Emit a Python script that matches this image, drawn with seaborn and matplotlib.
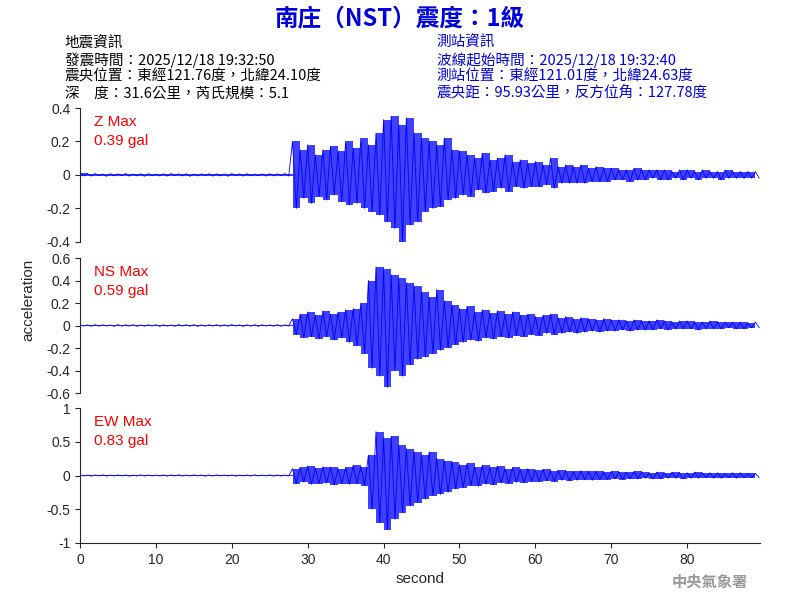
import numpy as np
import pandas as pd
import matplotlib
matplotlib.use("Agg")
import matplotlib.pyplot as plt
import seaborn as sns

# per-second peak (max / min) acceleration, 0..89 s
z_max = [0.01, 0.006, 0.008, 0.005, 0.007, 0.006, 0.008, 0.005, 0.006, 0.007, 0.005, 0.006, 0.008, 0.006,
         0.007, 0.005, 0.006, 0.007, 0.006, 0.005, 0.008, 0.006, 0.007, 0.005, 0.006, 0.007, 0.006, 0.008,
         0.20, 0.15, 0.18, 0.12, 0.15, 0.17, 0.14, 0.20, 0.16, 0.22, 0.18, 0.25,
         0.33, 0.35, 0.30, 0.34, 0.25, 0.22, 0.20, 0.18, 0.22, 0.15,
         0.14, 0.12, 0.10, 0.13, 0.09, 0.10, 0.12, 0.08, 0.09, 0.07,
         0.08, 0.06, 0.10, 0.05, 0.06, 0.05, 0.06, 0.04, 0.05, 0.04,
         0.04, 0.03, 0.03, 0.04, 0.03, 0.03, 0.03, 0.03, 0.02, 0.03,
         0.03, 0.02, 0.03, 0.02, 0.02, 0.03, 0.02, 0.02, 0.02, 0.02]
z_min = [-0.006, -0.007, -0.005, -0.008, -0.006, -0.005, -0.007, -0.006, -0.008, -0.005, -0.006, -0.007, -0.005, -0.006,
         -0.008, -0.006, -0.005, -0.007, -0.006, -0.008, -0.005, -0.007, -0.006, -0.005, -0.007, -0.006, -0.005, -0.007,
         -0.20, -0.14, -0.17, -0.13, -0.15, -0.12, -0.16, -0.18, -0.17, -0.20, -0.22, -0.24,
         -0.28, -0.32, -0.40, -0.30, -0.28, -0.22, -0.20, -0.19, -0.15, -0.14,
         -0.12, -0.13, -0.09, -0.11, -0.10, -0.08, -0.10, -0.07, -0.08, -0.07,
         -0.07, -0.06, -0.08, -0.05, -0.05, -0.05, -0.05, -0.04, -0.04, -0.04,
         -0.03, -0.03, -0.04, -0.03, -0.03, -0.02, -0.03, -0.03, -0.02, -0.03,
         -0.02, -0.03, -0.02, -0.02, -0.03, -0.02, -0.02, -0.02, -0.02, -0.02]
ns_max = [0.006, 0.005, 0.007, 0.006, 0.005, 0.008, 0.006, 0.007, 0.005, 0.006, 0.007, 0.006, 0.005, 0.008,
          0.006, 0.007, 0.005, 0.006, 0.007, 0.006, 0.008, 0.005, 0.006, 0.007, 0.006, 0.005, 0.007, 0.006,
          0.06, 0.10, 0.12, 0.09, 0.13, 0.10, 0.12, 0.14, 0.15, 0.20, 0.40, 0.52,
          0.50, 0.45, 0.42, 0.38, 0.35, 0.30, 0.25, 0.32, 0.22, 0.18,
          0.15, 0.17, 0.12, 0.14, 0.11, 0.13, 0.10, 0.12, 0.09, 0.10,
          0.08, 0.09, 0.10, 0.07, 0.08, 0.06, 0.07, 0.06, 0.05, 0.06,
          0.05, 0.05, 0.04, 0.05, 0.04, 0.04, 0.05, 0.04, 0.03, 0.04,
          0.04, 0.03, 0.03, 0.04, 0.03, 0.03, 0.03, 0.03, 0.02, 0.03]
ns_min = [-0.005, -0.007, -0.006, -0.005, -0.008, -0.006, -0.005, -0.007, -0.006, -0.005, -0.008, -0.006, -0.007, -0.005,
          -0.006, -0.008, -0.006, -0.005, -0.007, -0.006, -0.005, -0.008, -0.006, -0.007, -0.005, -0.006, -0.007, -0.005,
          -0.08, -0.11, -0.10, -0.12, -0.10, -0.13, -0.11, -0.15, -0.18, -0.25, -0.38, -0.45,
          -0.55, -0.40, -0.45, -0.35, -0.30, -0.28, -0.25, -0.22, -0.20, -0.17,
          -0.15, -0.13, -0.14, -0.11, -0.12, -0.10, -0.11, -0.09, -0.10, -0.08,
          -0.09, -0.07, -0.08, -0.07, -0.06, -0.07, -0.06, -0.05, -0.06, -0.05,
          -0.05, -0.04, -0.05, -0.04, -0.04, -0.04, -0.03, -0.04, -0.03, -0.03,
          -0.03, -0.04, -0.03, -0.03, -0.03, -0.02, -0.03, -0.03, -0.02, -0.02]
ew_max = [0.008, 0.006, 0.007, 0.009, 0.006, 0.008, 0.007, 0.006, 0.009, 0.007, 0.006, 0.008, 0.007, 0.009,
          0.006, 0.008, 0.007, 0.006, 0.009, 0.007, 0.008, 0.006, 0.007, 0.009, 0.006, 0.008, 0.007, 0.006,
          0.10, 0.12, 0.14, 0.11, 0.13, 0.12, 0.10, 0.12, 0.15, 0.13, 0.30, 0.65,
          0.55, 0.58, 0.45, 0.40, 0.35, 0.30, 0.35, 0.25, 0.22, 0.20,
          0.16, 0.18, 0.13, 0.15, 0.12, 0.14, 0.10, 0.12, 0.09, 0.10,
          0.08, 0.09, 0.07, 0.08, 0.07, 0.06, 0.07, 0.06, 0.06, 0.05,
          0.06, 0.05, 0.05, 0.06, 0.05, 0.04, 0.05, 0.04, 0.05, 0.04,
          0.04, 0.05, 0.04, 0.04, 0.04, 0.03, 0.04, 0.04, 0.03, 0.03]
ew_min = [-0.007, -0.009, -0.006, -0.008, -0.007, -0.006, -0.009, -0.007, -0.008, -0.006, -0.007, -0.009, -0.006, -0.008,
          -0.007, -0.006, -0.009, -0.008, -0.006, -0.007, -0.009, -0.006, -0.008, -0.007, -0.006, -0.009, -0.007, -0.008,
          -0.12, -0.10, -0.13, -0.12, -0.11, -0.14, -0.12, -0.13, -0.12, -0.15, -0.50, -0.70,
          -0.80, -0.65, -0.55, -0.45, -0.40, -0.35, -0.30, -0.28, -0.25, -0.20,
          -0.18, -0.15, -0.16, -0.13, -0.14, -0.11, -0.12, -0.10, -0.11, -0.09,
          -0.09, -0.08, -0.09, -0.07, -0.08, -0.07, -0.06, -0.07, -0.06, -0.06,
          -0.05, -0.06, -0.05, -0.05, -0.04, -0.05, -0.05, -0.04, -0.04, -0.05,
          -0.04, -0.04, -0.03, -0.04, -0.04, -0.03, -0.04, -0.03, -0.03, -0.03]

channels = ["Z", "NS", "EW"]
peaks = ["0.39 gal", "0.59 gal", "0.83 gal"]
series = [(z_max, z_min), (ns_max, ns_min), (ew_max, ew_min)]
ylims = [0.4, 0.6, 1.0]
yticks = [[-0.4, -0.2, 0, 0.2, 0.4], [-0.6, -0.4, -0.2, 0, 0.2, 0.4, 0.6], [-1, -0.5, 0, 0.5, 1]]
yticklabels = [["-0.4", "-0.2", "0", "0.2", "0.4"],
               ["-0.6", "-0.4", "-0.2", "0", "0.2", "0.4", "0.6"],
               ["-1", "-0.5", "0", "0.5", "1"]]

sns.set_style("ticks")
plt.rcParams['font.family'] = ['Liberation Sans', 'Noto Sans CJK TC', 'DejaVu Sans']
cjk = ['Noto Sans CJK TC', 'DejaVu Sans']

fig = plt.figure(figsize=(8, 6), dpi=100)
boxes = [[0.1, 0.597, 0.85, 0.223], [0.1, 0.345, 0.85, 0.225], [0.1, 0.095, 0.85, 0.225]]

for k in range(3):
    ax = fig.add_axes(boxes[k])
    mx, mn = series[k]
    sec = np.arange(len(mx))
    # zigzag trace: max at each second, min half a second later
    df = pd.DataFrame({"t": np.concatenate([sec, sec + 0.5]),
                       "a": np.concatenate([mx, mn])}).sort_values("t")
    sns.lineplot(data=df, x="t", y="a", ax=ax, color="blue", linewidth=0.6, sort=False)
    ax.fill_between(sec, mn, mx, step="post", color="blue", linewidth=0, alpha=0.75)
    ax.set_xlim(0, 89.6)
    ax.set_ylim(-ylims[k], ylims[k])
    ax.set_yticks(yticks[k])
    ax.set_yticklabels(yticklabels[k], fontsize=10)
    ax.set_ylabel("")
    ax.set_xlabel("")
    for s in ["top", "right"]:
        ax.spines[s].set_visible(False)
    ax.text(0.02, 0.95, f"{channels[k]} Max\n{peaks[k]}", transform=ax.transAxes, color="red",
            fontsize=11, va="top", ha="left", linespacing=1.5)
    if k < 2:
        ax.spines["bottom"].set_visible(False)
        ax.set_xticks([])
    else:
        ax.set_xticks([0, 10, 20, 30, 40, 50, 60, 70, 80])
        ax.tick_params(labelsize=10)
        ax.set_xlabel("second", fontsize=11)

fig.text(0.035, 0.5, "acceleration", rotation=90, va="center", ha="center", fontsize=11)
fig.text(0.5, 0.97, "南庄（NST）震度：1級", color="#0000dd", fontsize=17, fontweight="bold",
         ha="center", va="center", family=cjk)
left_lines = ["地震資訊", "發震時間：2025/12/18 19:32:50", "震央位置：東經121.76度，北緯24.10度",
              "深　度：31.6公里，芮氏規模：5.1"]
right_lines = ["測站資訊", "波線起始時間：2025/12/18 19:32:40", "測站位置：東經121.01度，北緯24.63度",
               "震央距：95.93公里，反方位角：127.78度"]
for i, (a, b) in enumerate(zip(left_lines, right_lines)):
    y = 0.928 - i * 0.028
    fig.text(0.081, y, a, fontsize=10.5, color="black", va="center", family=cjk)
    fig.text(0.546, y, b, fontsize=10.5, color="#0000dd", va="center", family=cjk)
fig.text(0.935, 0.03, "中央氣象署", color="#999999", fontsize=11, fontweight="bold",
         ha="right", va="center", family=cjk)

fig.savefig("out.png", dpi=100)
